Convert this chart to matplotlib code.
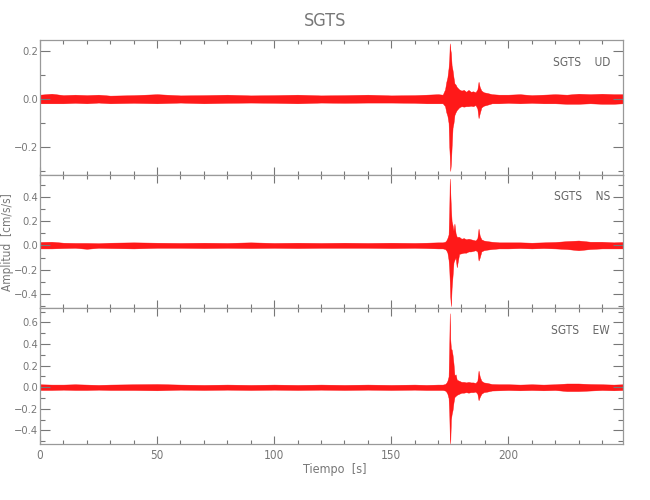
import matplotlib
matplotlib.use('Agg')
import matplotlib.pyplot as plt
from matplotlib.ticker import MultipleLocator

plt.rcParams['font.family'] = ['DejaVu Sans']
plt.rcParams['font.stretch'] = 'condensed'

# tiempos (s) donde se leyeron las envolventes de la traza
t = [0, 5, 10, 15, 20, 25, 30, 40, 50, 60, 70, 80, 90, 100, 110, 120, 130, 140,
     150, 160, 165, 170, 172, 173, 173.5, 174, 174.5, 174.8, 175.0, 175.2, 175.5,
     175.8, 176.2, 176.6, 177, 177.5, 178, 179, 180, 181, 182, 183, 184, 185,
     186, 186.8, 187.3, 187.8, 188.5, 189.5, 191, 193, 196, 200, 205, 210, 215,
     220, 225, 230, 235, 240, 245, 249]

# UD: envolvente superior / inferior
ud_up = [0.018, 0.022, 0.016, 0.018, 0.016, 0.018, 0.014, 0.016, 0.02, 0.015, 0.016, 0.018,
         0.015, 0.016, 0.018, 0.015, 0.016, 0.018, 0.015, 0.016, 0.018, 0.02, 0.018, 0.04,
         0.07, 0.09, 0.13, 0.17, 0.232, 0.21, 0.19, 0.14, 0.12, 0.09, 0.065, 0.06, 0.05,
         0.04, 0.035, 0.038, 0.03, 0.038, 0.03, 0.032, 0.028, 0.04, 0.072, 0.05, 0.035,
         0.028, 0.025, 0.02, 0.018, 0.018, 0.02, 0.016, 0.018, 0.02, 0.018, 0.022, 0.02,
         0.022, 0.02, 0.02]
ud_lo = [-0.018, -0.018, -0.018, -0.016, -0.018, -0.015, -0.018, -0.016, -0.018, -0.015,
         -0.018, -0.016, -0.015, -0.016, -0.018, -0.015, -0.016, -0.015, -0.015, -0.016,
         -0.018, -0.018, -0.018, -0.03, -0.055, -0.07, -0.10, -0.20, -0.24, -0.30, -0.27,
         -0.20, -0.12, -0.10, -0.067, -0.055, -0.046, -0.035, -0.03, -0.032, -0.03, -0.03,
         -0.028, -0.03, -0.025, -0.04, -0.08, -0.06, -0.035, -0.028, -0.024, -0.018,
         -0.018, -0.016, -0.018, -0.016, -0.018, -0.018, -0.02, -0.02, -0.018, -0.02,
         -0.02, -0.018]

# NS
ns_up = [0.028, 0.03, 0.022, 0.02, 0.02, 0.018, 0.022, 0.025, 0.022, 0.02, 0.022, 0.02,
         0.025, 0.02, 0.022, 0.02, 0.022, 0.02, 0.022, 0.02, 0.022, 0.025, 0.025, 0.03,
         0.04, 0.06, 0.09, 0.30, 0.55, 0.45, 0.30, 0.20, 0.165, 0.12, 0.18, 0.10, 0.07,
         0.07, 0.055, 0.06, 0.05, 0.055, 0.05, 0.045, 0.04, 0.06, 0.138, 0.08, 0.05, 0.04,
         0.035, 0.03, 0.025, 0.025, 0.025, 0.022, 0.025, 0.028, 0.035, 0.04, 0.03, 0.03,
         0.025, 0.028]
ns_lo = [-0.025, -0.025, -0.022, -0.02, -0.028, -0.02, -0.022, -0.025, -0.02, -0.02,
         -0.022, -0.02, -0.022, -0.02, -0.022, -0.02, -0.02, -0.02, -0.022, -0.02, -0.022,
         -0.025, -0.025, -0.03, -0.04, -0.06, -0.12, -0.20, -0.30, -0.42, -0.50, -0.35,
         -0.25, -0.14, -0.12, -0.10, -0.18, -0.07, -0.065, -0.06, -0.06, -0.05, -0.05,
         -0.045, -0.04, -0.05, -0.125, -0.10, -0.05, -0.04, -0.035, -0.03, -0.025, -0.025,
         -0.022, -0.025, -0.022, -0.025, -0.03, -0.04, -0.03, -0.025, -0.025, -0.025]

# EW
ew_up = [0.028, 0.025, 0.025, 0.028, 0.025, 0.022, 0.025, 0.028, 0.03, 0.025, 0.022,
         0.025, 0.022, 0.025, 0.022, 0.025, 0.022, 0.025, 0.022, 0.025, 0.022, 0.025,
         0.025, 0.03, 0.04, 0.06, 0.10, 0.40, 0.685, 0.45, 0.357, 0.35, 0.30, 0.22, 0.11,
         0.12, 0.07, 0.06, 0.05, 0.05, 0.045, 0.05, 0.045, 0.045, 0.04, 0.06, 0.155, 0.10,
         0.06, 0.045, 0.04, 0.03, 0.028, 0.028, 0.025, 0.028, 0.025, 0.028, 0.035, 0.035,
         0.03, 0.028, 0.025, 0.028]
ew_lo = [-0.025, -0.025, -0.022, -0.025, -0.025, -0.022, -0.025, -0.025, -0.028, -0.022,
         -0.025, -0.022, -0.025, -0.022, -0.025, -0.022, -0.025, -0.022, -0.025, -0.022,
         -0.025, -0.025, -0.025, -0.03, -0.04, -0.06, -0.10, -0.25, -0.45, -0.52, -0.30,
         -0.25, -0.21, -0.14, -0.09, -0.08, -0.07, -0.06, -0.05, -0.05, -0.045, -0.05,
         -0.045, -0.045, -0.04, -0.06, -0.12, -0.09, -0.06, -0.045, -0.04, -0.03, -0.028,
         -0.025, -0.028, -0.025, -0.028, -0.025, -0.035, -0.035, -0.03, -0.025, -0.028,
         -0.025]

componentes = ['UD', 'NS', 'EW']
ylims = [(-0.317, 0.246), (-0.516, 0.58), (-0.525, 0.734)]
yticks = [[-0.2, 0.0, 0.2], [-0.4, -0.2, 0.0, 0.2, 0.4], [-0.4, -0.2, 0.0, 0.2, 0.4, 0.6]]
trazas = [(ud_up, ud_lo), (ns_up, ns_lo), (ew_up, ew_lo)]

gris = '#777777'
fig = plt.figure(figsize=(6.5, 5), dpi=100)
posiciones = [[0.0615, 0.65, 0.897, 0.27],
              [0.0615, 0.384, 0.897, 0.266],
              [0.0615, 0.112, 0.897, 0.272]]

for i, comp in enumerate(componentes):
    ax = fig.add_axes(posiciones[i])
    up, lo = trazas[i]
    ax.fill_between(t, lo, up, facecolor='red', alpha=0.9, lw=0.3, edgecolor='red')
    ax.set_xlim(0, 249)
    ax.set_ylim(*ylims[i])
    ax.xaxis.set_major_locator(MultipleLocator(50))
    ax.xaxis.set_minor_locator(MultipleLocator(10))
    ax.set_yticks(yticks[i])
    ax.yaxis.set_minor_locator(MultipleLocator(0.1))
    ax.set_yticklabels([('%.1f' % v).replace('-', '\u2212') for v in yticks[i]])
    ax.tick_params(which='both', direction='in', top=True, right=True,
                   color=gris, labelcolor=gris, labelsize=8.5, width=0.8)
    ax.tick_params(axis='y', labelsize=8)
    ax.tick_params(axis='x', which='major', length=6)
    ax.tick_params(axis='x', which='minor', length=3)
    ax.tick_params(axis='y', which='major', length=7, pad=1.5)
    ax.tick_params(axis='y', which='minor', length=3.5)
    for s in ax.spines.values():
        s.set_color('#999999')
        s.set_linewidth(0.9)
    if i < 2:
        ax.set_xticklabels([])
    ax.text(0.978, 0.835, 'SGTS    ' + comp, transform=ax.transAxes,
            ha='right', va='center', color='#666666', fontsize=8.5)

fig.text(0.5, 0.958, 'SGTS', ha='center', va='center', color=gris, fontsize=13)
fig.text(0.515, 0.06, 'Tiempo  [s]', ha='center', va='center', color=gris, fontsize=9)
fig.text(0.012, 0.516, 'Amplitud  [cm/s/s]', ha='center', va='center',
         rotation=90, color=gris, fontsize=8.5)

fig.savefig('out.png', dpi=100)
